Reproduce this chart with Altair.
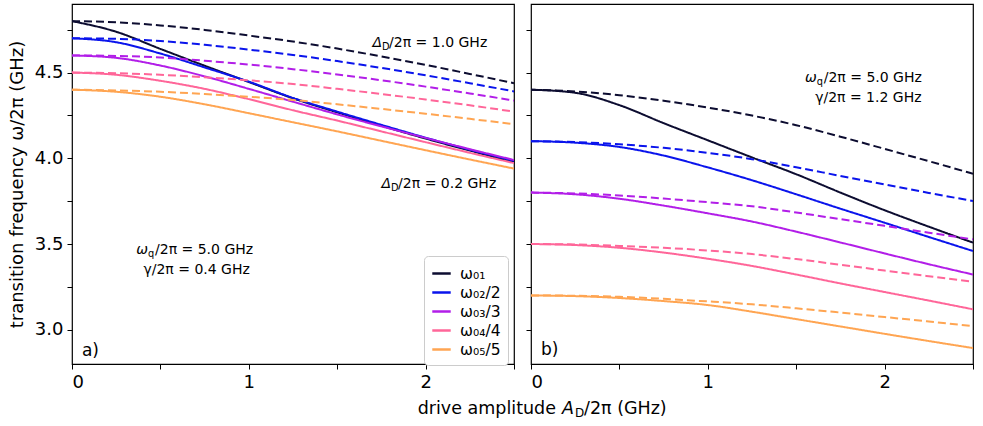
import altair as alt
import pandas as pd

# ---------------- data ----------------
AMP = [0.0, 0.25, 0.5, 0.75, 1.0, 1.25, 1.5, 1.75, 2.0, 2.25, 2.5]

SERIES = ["ω₀₁", "ω₀₂/2", "ω₀₃/3", "ω₀₄/4", "ω₀₅/5"]
COLORS = ["#0c0c30", "#0a14ec", "#b21ee8", "#ff6699", "#ffa552"]

# panel a) gamma/2pi = 0.4 GHz ; solid: Delta_D/2pi = 0.2 GHz, dashed: 1.0 GHz
A_SOLID = [
    [4.800, 4.738, 4.638, 4.540, 4.445, 4.350, 4.268, 4.190, 4.115, 4.045, 3.978],
    [4.700, 4.677, 4.611, 4.530, 4.447, 4.352, 4.272, 4.195, 4.120, 4.050, 3.985],
    [4.600, 4.586, 4.541, 4.478, 4.405, 4.330, 4.256, 4.186, 4.119, 4.053, 3.990],
    [4.500, 4.487, 4.452, 4.405, 4.345, 4.280, 4.220, 4.157, 4.094, 4.032, 3.972],
    [4.400, 4.388, 4.359, 4.315, 4.263, 4.210, 4.157, 4.102, 4.047, 3.993, 3.940],
]
A_DASHED = [
    [4.800, 4.793, 4.775, 4.749, 4.716, 4.681, 4.640, 4.594, 4.545, 4.492, 4.438],
    [4.700, 4.697, 4.684, 4.662, 4.634, 4.603, 4.567, 4.527, 4.484, 4.438, 4.390],
    [4.600, 4.597, 4.588, 4.569, 4.547, 4.520, 4.489, 4.455, 4.418, 4.378, 4.337],
    [4.500, 4.496, 4.487, 4.472, 4.455, 4.433, 4.405, 4.375, 4.343, 4.309, 4.272],
    [4.400, 4.396, 4.388, 4.375, 4.359, 4.340, 4.315, 4.288, 4.260, 4.230, 4.199],
]
# panel b) gamma/2pi = 1.2 GHz
B_SOLID = [
    [4.400, 4.382, 4.310, 4.205, 4.105, 4.005, 3.907, 3.800, 3.697, 3.601, 3.508],
    [4.100, 4.091, 4.066, 4.016, 3.947, 3.872, 3.790, 3.706, 3.624, 3.541, 3.459],
    [3.800, 3.790, 3.764, 3.724, 3.679, 3.631, 3.572, 3.509, 3.445, 3.382, 3.322],
    [3.500, 3.494, 3.478, 3.450, 3.414, 3.372, 3.322, 3.270, 3.220, 3.170, 3.119],
    [3.200, 3.196, 3.185, 3.167, 3.144, 3.105, 3.062, 3.019, 2.976, 2.934, 2.893],
]
B_DASHED = [
    [4.400, 4.390, 4.368, 4.336, 4.296, 4.249, 4.193, 4.126, 4.055, 3.983, 3.910],
    [4.100, 4.095, 4.082, 4.061, 4.032, 3.995, 3.948, 3.897, 3.847, 3.798, 3.751],
    [3.800, 3.795, 3.783, 3.765, 3.744, 3.720, 3.684, 3.645, 3.606, 3.566, 3.527],
    [3.500, 3.497, 3.489, 3.478, 3.462, 3.441, 3.412, 3.379, 3.345, 3.312, 3.280],
    [3.200, 3.198, 3.192, 3.180, 3.165, 3.148, 3.125, 3.100, 3.074, 3.048, 3.021],
]

Y_TICKS = [3.0, 3.25, 3.5, 3.75, 4.0, 4.25, 4.5, 4.75]
X_TICKS = [0.0, 0.5, 1.0, 1.5, 2.0, 2.5]

FONT = "DejaVu Sans"


def build(solid, dashed, panel):
    rows = []
    for s, name in enumerate(SERIES):
        for kind, arr in (("solid", solid[s]), ("dashed", dashed[s])):
            for a, f in zip(AMP, arr):
                rows.append({"panel": panel, "series": name, "kind": kind,
                             "line": f"{name}-{kind}", "amp": a, "freq": f})
    return pd.DataFrame(rows)


df_a = build(A_SOLID, A_DASHED, "a")
df_b = build(B_SOLID, B_DASHED, "b")

xscale = alt.Scale(domain=[0, 2.5], nice=False, zero=False)
yscale = alt.Scale(domain=[2.8, 4.9], nice=False, zero=False)

legend = alt.Legend(
    title=None, orient="none", legendX=352, legendY=252,
    symbolType="stroke", symbolSize=340, symbolStrokeWidth=2.5,
    labelFontSize=15.5, labelFont=FONT, labelColor="black", rowPadding=0,
    padding=7, fillColor="white", strokeColor="#cccccc", cornerRadius=4,
    labelOffset=8,
)


def axes(show_ylabels):
    yaxis = alt.Axis(
        values=Y_TICKS, title="transition frequency ω/2π (GHz)" if show_ylabels else None,
        labels=show_ylabels,
        labelExpr="(datum.value * 2) % 1 == 0 ? format(datum.value, '.1f') : ''",
        titleFontSize=18, titleFont=FONT, titleFontWeight="normal", titleColor="black",
        titlePadding=8,
    )
    xaxis = alt.Axis(
        values=X_TICKS, title=None,
        labelExpr="datum.value % 1 == 0 ? format(datum.value, 'd') : ''",
    )
    return xaxis, yaxis


def lines(df, show_ylabels):
    xaxis, yaxis = axes(show_ylabels)
    return alt.Chart(df).mark_line(strokeWidth=2, clip=True, interpolate="monotone").encode(
        x=alt.X("amp:Q", scale=xscale, axis=xaxis),
        y=alt.Y("freq:Q", scale=yscale, axis=yaxis),
        color=alt.Color("series:N", scale=alt.Scale(domain=SERIES, range=COLORS), legend=legend),
        strokeDash=alt.StrokeDash("kind:N", scale=alt.Scale(domain=["solid", "dashed"],
                                                            range=[[1, 0], [8, 4]]), legend=None),
        detail="line:N",
    )


def piece(x, y, text, dx=0, dy=0, size=14, align="left", style="normal", pixel=False):
    d = pd.DataFrame({"amp": [x], "freq": [y], "t": [text]})
    enc = {"text": "t:N"}
    if pixel:
        enc["x"] = alt.value(x)
        enc["y"] = alt.value(y)
    else:
        enc["x"] = alt.X("amp:Q", scale=xscale)
        enc["y"] = alt.Y("freq:Q", scale=yscale)
    return alt.Chart(d).mark_text(
        align=align, baseline="middle", dx=dx, dy=dy, fontSize=size,
        fontStyle=style, font=FONT, color="black",
    ).encode(**enc)


def sub_label(x, y, sym, sub, rest, size=14):
    # symbol right-aligned at anchor, subscript and rest left-aligned after it
    return [
        piece(x, y, sym, size=size, align="right", style="italic"),
        piece(x, y, sub, dy=4, size=size * 0.7, align="left"),
        piece(x, y, rest, dx=size * 0.5, size=size, align="left"),
    ]


ann_a = (
    sub_label(1.754, 4.675, "Δ", "D", "/2π = 1.0 GHz")
    + sub_label(1.805, 3.850, "Δ", "D", "/2π = 0.2 GHz")
    + sub_label(0.430, 3.465, "ω", "q", "/2π = 5.0 GHz")
    + [piece(1.006, 3.348, "γ/2π = 0.4 GHz", align="right")]
    + [piece(0.056, 2.875, "a)", size=17)]
    # shared x-axis title (pixel positions relative to panel a)
    + [piece(484, 405, "drive amplitude", size=17.5, align="right", pixel=True),
       piece(490, 405, "A", size=17.5, style="italic", pixel=True),
       piece(503, 409, "D", size=12, pixel=True),
       piece(512, 405, "/2π (GHz)", size=17.5, pixel=True)]
)
ann_b = (
    sub_label(1.616, 4.469, "ω", "q", "/2π = 5.0 GHz")
    + [piece(2.209, 4.352, "γ/2π = 1.2 GHz", align="right")]
    + [piece(0.056, 2.880, "b)", size=17)]
)

panel_a = alt.layer(lines(df_a, True), *ann_a).properties(width=442, height=360)
panel_b = alt.layer(lines(df_b, False), *ann_b).properties(width=442, height=360)

chart = alt.hconcat(panel_a, panel_b, spacing=17, bounds="flush").properties(
    padding={"left": 7, "top": 3, "right": 5, "bottom": 5}, background="white"
).configure_view(
    stroke="black", strokeWidth=1.2
).configure_axis(
    grid=False, domain=False, tickColor="black", tickSize=5, tickWidth=1,
    labelFontSize=18, labelFont=FONT, labelColor="black", labelPadding=4,
)

chart.save("out.html", embed_options={"renderer": "svg", "actions": False})
